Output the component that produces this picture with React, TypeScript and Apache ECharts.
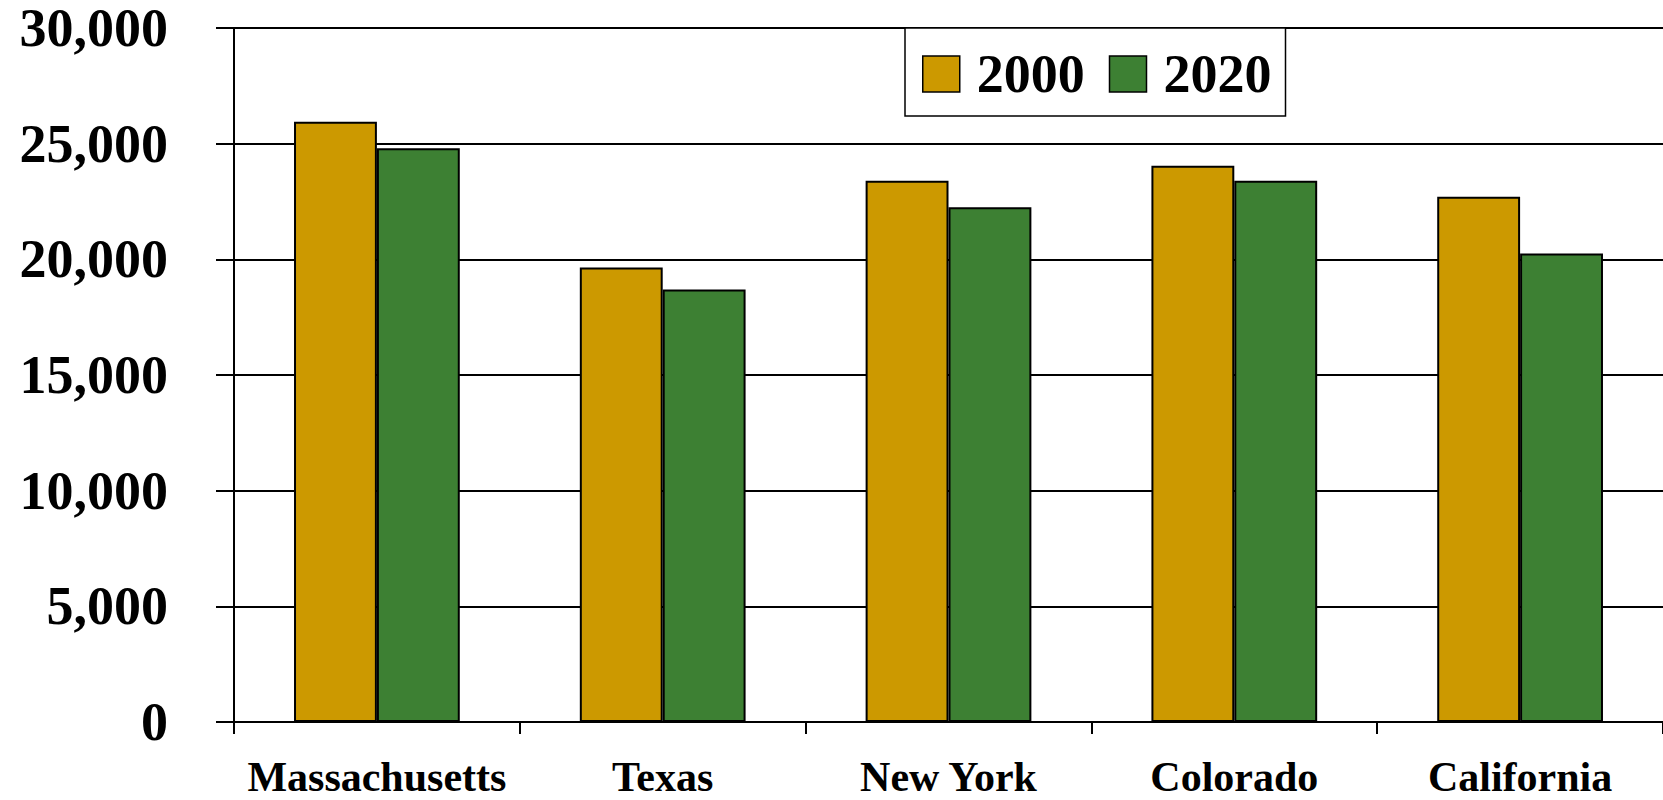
import React, { useEffect, useRef } from "react";
import * as echarts from "echarts";

const categories = ["Massachusetts", "Texas", "New York", "Colorado", "California"];
const series2000 = [25950, 19650, 23400, 24050, 22700];
const series2020 = [24800, 18700, 22250, 23400, 20250];
const seriesNames = ["2000", "2020"];
const yTicks = { min: 0, max: 30000, interval: 5000 };

const FONT = "'Liberation Serif', 'Times New Roman', serif";

export default function App() {
  const ref = useRef<HTMLDivElement>(null);
  useEffect(() => {
    if (!ref.current) return;
    const chart = echarts.init(ref.current, null, { renderer: "svg" });
    chart.setOption({
      animation: false,
      backgroundColor: "#ffffff",
      grid: { left: 234, top: 28, width: 1432, height: 694 },
      legend: {
        data: seriesNames,
        left: 905,
        top: 28,
        orient: "horizontal",
        icon: "rect",
        itemWidth: 37,
        itemHeight: 36,
        itemGap: 24,
        padding: [19, 14, 15, 17],
        backgroundColor: "#ffffff",
        borderColor: "#000000",
        borderWidth: 1.5,
        itemStyle: { borderColor: "#000000", borderWidth: 1.5 },
        textStyle: {
          fontFamily: FONT,
          fontWeight: "bold",
          fontSize: 54,
          lineHeight: 44,
          color: "#000000",
          padding: [0, 0, 0, 12],
        },
      },
      xAxis: {
        type: "category",
        data: categories,
        boundaryGap: true,
        axisLine: { show: true, lineStyle: { color: "#000000", width: 2 } },
        axisTick: { show: true, length: 12, lineStyle: { color: "#000000", width: 2 } },
        axisLabel: {
          fontFamily: FONT,
          fontWeight: "bold",
          fontSize: 42,
          color: "#000000",
          margin: 34,
          interval: 0,
        },
        splitLine: { show: false },
      },
      yAxis: {
        type: "value",
        min: yTicks.min,
        max: yTicks.max,
        interval: yTicks.interval,
        axisLine: { show: true, lineStyle: { color: "#000000", width: 2 } },
        axisTick: { show: true, length: 18, lineStyle: { color: "#000000", width: 2 } },
        axisLabel: {
          fontFamily: FONT,
          fontWeight: "bold",
          fontSize: 54,
          lineHeight: 44,
          padding: [6, 0, 0, 0],
          color: "#000000",
          margin: 66,
          formatter: (v: number) => v.toLocaleString("en-US"),
        },
        splitLine: { show: true, lineStyle: { color: "#000000", width: 2 } },
      },
      series: [
        {
          name: seriesNames[0],
          type: "bar",
          data: series2000,
          barGap: "0%",
          barCategoryGap: "42%",
          itemStyle: { color: "#CC9900", borderColor: "#000000", borderWidth: 2 },
        },
        {
          name: seriesNames[1],
          type: "bar",
          data: series2020,
          barGap: "0%",
          barCategoryGap: "42%",
          itemStyle: { color: "#3D8033", borderColor: "#000000", borderWidth: 2 },
        },
      ],
    });
    return () => chart.dispose();
  }, []);
  return (
    <div
      ref={ref}
      style={{ position: "fixed", left: 0, top: 0, width: 1663, height: 800 }}
    />
  );
}
